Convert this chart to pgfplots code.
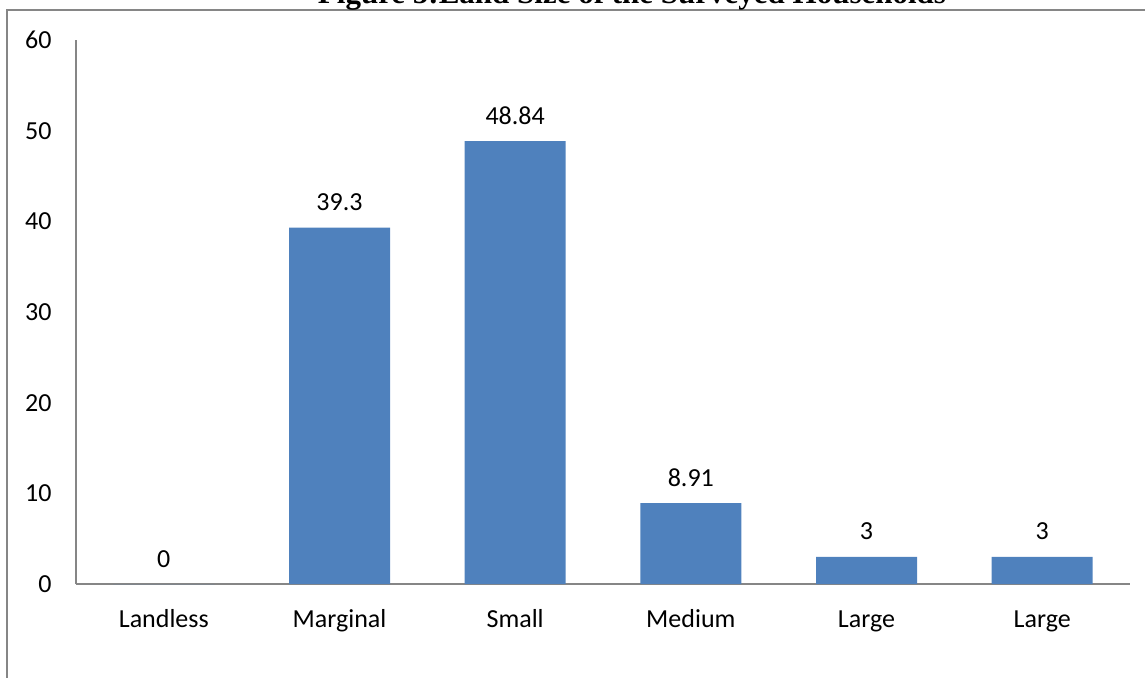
\documentclass[border=0pt]{standalone}
\usepackage{pgfplots}
\pgfplotsset{compat=1.18}
\usepackage{fontspec}
\setmainfont{Carlito}
\newfontfamily\titlefont{Liberation Serif}
\definecolor{barblue}{RGB}{79,129,189}
\definecolor{axgray}{RGB}{134,134,134}
\begin{document}
\begin{tikzpicture}
\useasboundingbox (0,0) rectangle (572.5pt,338.5pt);
\clip (0,0) rectangle (572.5pt,338.5pt);
\draw[axgray, line width=1pt] (3.5pt,-20pt) rectangle (600pt,333.5pt);
\node[anchor=base, inner sep=0pt, font=\titlefont\bfseries\fontsize{15.5pt}{18pt}\selectfont] at (316pt,337pt) {Figure 5:Land Size of the Surveyed Households};
\begin{axis}[
  at={(38pt,46.5pt)}, anchor=south west,
  scale only axis, width=527pt, height=272pt,
  xmin=-0.5, xmax=5.5, ymin=0, ymax=60,
  axis x line=bottom, axis y line=left,
  axis line style={-, axgray, line width=1pt},
  xtick={0,...,5},
  xticklabels={Landless,Marginal,Small,Medium,Large,Large},
  ytick={0,10,...,60},
  major tick length=0pt,
  tick style={draw=none},
  /pgf/number format/assume math mode=true,
  font=\fontsize{13pt}{15pt}\selectfont,
  ticklabel style={font=\fontsize{13pt}{15pt}\selectfont},
  yticklabel style={anchor=east, inner sep=0pt, xshift=-12pt},
  xticklabel style={anchor=base, inner sep=0pt, yshift=-21.5pt},
  ybar, bar width=50.5pt,
  nodes near coords,
  every node near coord/.append style={anchor=base, inner sep=0pt, yshift=8.5pt, font=\fontsize{13pt}{15pt}\selectfont, black},
  clip=false,
]
\addplot[fill=barblue, draw=none] coordinates {(0,0) (1,39.3) (2,48.84) (3,8.91) (4,3) (5,3)};
\end{axis}
\end{tikzpicture}
\end{document}
